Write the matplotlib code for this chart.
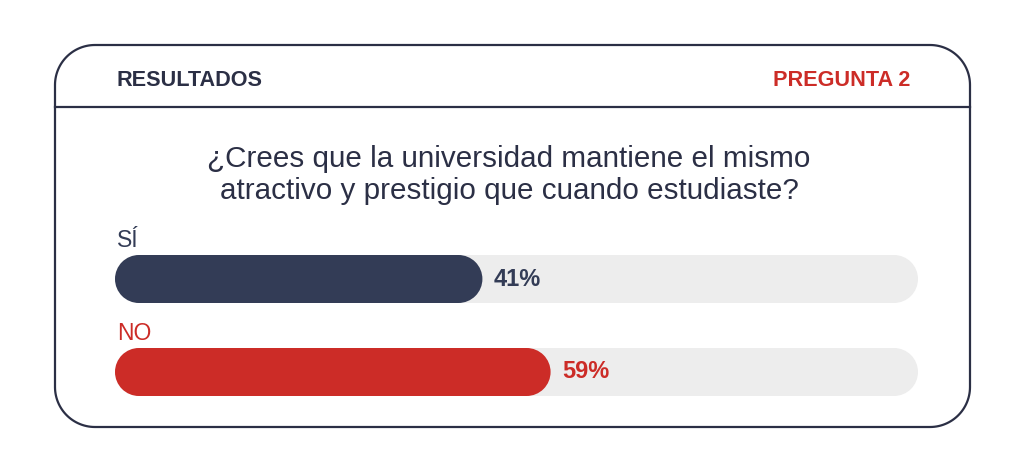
import numpy as np
import matplotlib.pyplot as plt
from matplotlib.patches import Polygon, Rectangle, Ellipse

plt.rcParams['font.family'] = ['Liberation Sans', 'DejaVu Sans']

# data
categories = ['SÍ', 'NO']
values = [41, 59]
header_left = 'RESULTADOS'
header_right = 'PREGUNTA 2'
question = ['¿Crees que la universidad mantiene el mismo',
            'atractivo y prestigio que cuando estudiaste?']

navy = '#333c56'
red = '#cc2c27'
track = '#ededed'
border = '#2b2f45'
bar_colors = [navy, red]

W, H = 1024, 472
fig = plt.figure(figsize=(W / 100, H / 100), dpi=100)

# background axes in pixel units for frame and header
bg = fig.add_axes([0, 0, 1, 1])
bg.set_xlim(0, W)
bg.set_ylim(H, 0)
bg.axis('off')


def rounded_rect(x0, y0, x1, y1, r, n=30):
    pts = []
    corners = [(x1 - r, y0 + r, -90, 0), (x1 - r, y1 - r, 0, 90),
               (x0 + r, y1 - r, 90, 180), (x0 + r, y0 + r, 180, 270)]
    for cx, cy, a0, a1 in corners:
        t = np.radians(np.linspace(a0, a1, n))
        pts += list(zip(cx + r * np.cos(t), cy + r * np.sin(t)))
    return pts


bg.add_patch(Polygon(rounded_rect(55, 45, 970, 427, 40), closed=True,
                     fc='white', ec=border, lw=1.6))
bg.plot([55, 970], [107, 107], color=border, lw=1.6)
bg.text(117, 80, header_left, fontsize=15.6, fontweight='bold', color=border, va='center')
bg.text(910, 80, header_right, fontsize=15.6, fontweight='bold', color=red, va='center', ha='right')
for k, line in enumerate(question):
    bg.text(509, 159 + 32 * k, line, fontsize=21.3, color=border, ha='center', va='center')

# bar axes: track spans 115..918 px, rows at 279 and 372 px
x0_px, x1_px = 115, 918
top_px, bot_px = 225, 410
row_px = [279, 372]
XMIN, XMAX = -56, 156
ax = fig.add_axes([x0_px / W, 1 - bot_px / H, (x1_px - x0_px) / W, (bot_px - top_px) / H])
ax.axis('off')
ax.set_xlim(XMIN, XMAX)
row_gap = row_px[1] - row_px[0]
ax.set_ylim((bot_px - row_px[0]) / row_gap, -(row_px[0] - top_px) / row_gap)

xu = (XMAX - XMIN) / (x1_px - x0_px)   # x units per px
yu = 1 / row_gap                        # y units per px
bar_h = 48 * yu
rx = 24 * xu                            # end-cap radius in x units


def pill(x_start, x_end, y, color):
    ax.add_patch(Rectangle((x_start + rx, y - bar_h / 2), x_end - x_start - 2 * rx, bar_h,
                           fc=color, ec='none'))
    ax.add_patch(Ellipse((x_start + rx, y), 2 * rx, bar_h, fc=color, ec='none'))
    ax.add_patch(Ellipse((x_end - rx, y), 2 * rx, bar_h, fc=color, ec='none'))


for i, (cat, v, c) in enumerate(zip(categories, values, bar_colors)):
    pill(XMIN, XMAX, i, track)
    pill(XMIN, v, i, c)
    ax.text(XMIN + 0.5, i - 0.41, cat, fontsize=16.5, color=c, va='center', ha='left')
    ax.text(v + 3, i, f'{v}%', fontsize=17, fontweight='bold', color=c, va='center', ha='left')

fig.savefig('out.png', dpi=100)
